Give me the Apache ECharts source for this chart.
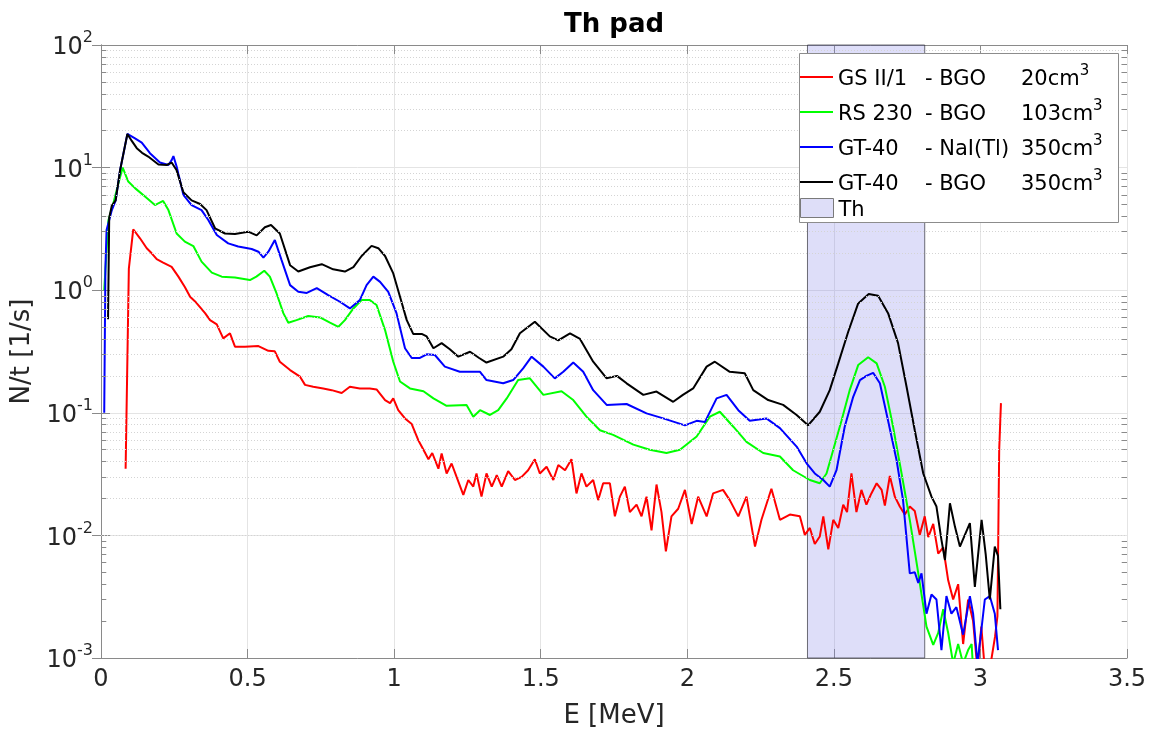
<!DOCTYPE html>
<html>
<head>
<meta charset="utf-8">
<script src="https://cdn.jsdelivr.net/npm/echarts@6/dist/echarts.min.js"></script>
<style>
  html, body { margin: 0; padding: 0; background: #fff; }
  #chart { width: 1154px; height: 729px; }
</style>
</head>
<body>
<div id="chart"></div>
<script>
// Detector descriptions (legend text)
const DETECTORS = ['GS II/1', 'RS 230', 'GT-40', 'GT-40'];
const CRYSTALS  = ['BGO', 'BGO', 'NaI(Tl)', 'BGO'];
const VOLUMES   = [20, 103, 350, 350];
const COLORS    = ['#ff0000', '#00ff00', '#0000ff', '#000000'];

// Energy window of the Th line
const TH_BAND = [2.41, 2.81];

// Axis ticks
const X_TICKS = [0, 0.5, 1, 1.5, 2, 2.5, 3, 3.5];
const Y_DECADES = [-3, -2, -1, 0, 1, 2];

// GS II/1 - BGO 20 cm3
const E_GS = [0.084,0.095,0.11,0.133,0.156,0.173,0.19,0.212,0.241,0.264,0.286,0.304,0.321,0.355,0.372,0.395,0.417,0.44,0.457,0.491,0.537,0.571,0.593,0.61,0.645,0.679,0.696,0.724,0.758,0.787,0.821,0.849,0.883,0.917,0.94,0.969,0.986,0.997,1.014,1.037,1.06,1.082,1.1,1.117,1.13,1.151,1.162,1.179,1.196,1.213,1.236,1.253,1.27,1.281,1.298,1.315,1.333,1.35,1.367,1.389,1.412,1.435,1.457,1.48,1.497,1.52,1.543,1.56,1.583,1.605,1.622,1.639,1.656,1.679,1.696,1.713,1.736,1.753,1.77,1.787,1.804,1.827,1.844,1.861,1.878,1.895,1.912,1.927,1.946,1.969,1.992,2.015,2.037,2.066,2.088,2.122,2.145,2.174,2.202,2.231,2.253,2.287,2.316,2.35,2.384,2.401,2.418,2.435,2.452,2.464,2.481,2.498,2.515,2.532,2.545,2.56,2.577,2.594,2.611,2.628,2.646,2.663,2.674,2.691,2.708,2.725,2.742,2.759,2.776,2.793,2.81,2.822,2.839,2.856,2.873,2.89,2.907,2.924,2.941,2.958,2.975,2.99,3.003,3.015,3.035,3.05,3.058,3.064,3.07];
const N_GS = [0.035,1.5,3.14,2.65,2.2,2.0,1.79,1.68,1.55,1.29,1.06,0.885,0.81,0.65,0.57,0.526,0.405,0.445,0.346,0.346,0.35,0.32,0.317,0.261,0.223,0.197,0.169,0.163,0.158,0.153,0.145,0.163,0.158,0.158,0.155,0.127,0.12,0.131,0.105,0.09,0.081,0.06,0.05,0.0418,0.047,0.035,0.0465,0.032,0.0386,0.03,0.0214,0.0283,0.025,0.032,0.0207,0.032,0.025,0.031,0.025,0.0335,0.0283,0.03,0.034,0.0418,0.032,0.0363,0.0283,0.0375,0.034,0.0418,0.022,0.032,0.025,0.0283,0.0194,0.0266,0.0266,0.0143,0.0207,0.025,0.0155,0.0178,0.0143,0.0207,0.011,0.026,0.0155,0.0074,0.0143,0.0165,0.0235,0.0124,0.0207,0.0143,0.022,0.0235,0.0194,0.0143,0.0207,0.0081,0.0134,0.024,0.0134,0.0148,0.0143,0.0101,0.0115,0.0085,0.0098,0.0143,0.0077,0.0134,0.0115,0.0178,0.0155,0.032,0.0155,0.0235,0.0178,0.022,0.0266,0.0235,0.0175,0.0305,0.0207,0.0172,0.0148,0.0172,0.0158,0.0101,0.0143,0.0097,0.0124,0.0071,0.008,0.0043,0.003,0.004,0.0013,0.003,0.002,0.0008,0.0018,0.0008,0.0009,0.0015,0.0022,0.05,0.12];

// RS 230 - BGO 103 cm3
const E_RS = [0.011,0.025,0.042,0.059,0.074,0.093,0.116,0.15,0.184,0.212,0.23,0.258,0.286,0.315,0.343,0.378,0.412,0.457,0.508,0.53,0.557,0.576,0.599,0.622,0.639,0.667,0.707,0.747,0.781,0.81,0.832,0.861,0.889,0.917,0.94,0.969,0.997,1.02,1.054,1.1,1.134,1.179,1.247,1.27,1.293,1.327,1.355,1.384,1.423,1.463,1.509,1.571,1.611,1.656,1.702,1.747,1.816,1.872,1.929,1.975,2.032,2.077,2.111,2.157,2.202,2.259,2.316,2.361,2.418,2.452,2.475,2.498,2.526,2.554,2.583,2.617,2.646,2.674,2.702,2.731,2.759,2.788,2.816,2.839,2.856,2.873,2.89,2.907,2.924,2.941,2.958,2.97,2.975];
const N_RS = [1.0,3.7,5.1,7.4,10,7.7,6.8,5.8,4.95,5.35,4.5,2.9,2.49,2.29,1.71,1.39,1.29,1.27,1.21,1.29,1.44,1.29,0.94,0.65,0.543,0.57,0.616,0.6,0.543,0.503,0.57,0.71,0.83,0.83,0.757,0.473,0.261,0.18,0.158,0.15,0.131,0.114,0.116,0.093,0.105,0.096,0.105,0.131,0.185,0.191,0.14,0.15,0.127,0.093,0.072,0.066,0.055,0.05,0.047,0.05,0.064,0.093,0.102,0.077,0.058,0.047,0.044,0.034,0.0283,0.0266,0.032,0.05,0.086,0.153,0.245,0.284,0.253,0.163,0.077,0.032,0.0134,0.0049,0.0018,0.00128,0.0016,0.0025,0.0016,0.0009,0.0013,0.0009,0.00116,0.0013,0.0008];

// GT-40 - NaI(Tl) 350 cm3
const E_NAI = [0.011,0.015,0.019,0.037,0.05,0.065,0.09,0.116,0.139,0.167,0.201,0.23,0.241,0.247,0.258,0.281,0.309,0.343,0.366,0.395,0.434,0.468,0.514,0.537,0.554,0.571,0.593,0.616,0.645,0.673,0.702,0.736,0.775,0.815,0.849,0.883,0.906,0.929,0.952,0.98,1.008,1.037,1.06,1.088,1.111,1.139,1.173,1.224,1.293,1.315,1.372,1.406,1.44,1.469,1.509,1.548,1.577,1.611,1.645,1.679,1.725,1.793,1.861,1.918,1.992,2.032,2.06,2.1,2.134,2.174,2.213,2.27,2.316,2.373,2.407,2.435,2.464,2.486,2.509,2.537,2.566,2.589,2.611,2.634,2.657,2.685,2.714,2.736,2.759,2.776,2.788,2.799,2.816,2.833,2.85,2.867,2.884,2.901,2.918,2.941,2.964,2.975,2.99,3.015,3.032,3.049,3.06];
const N_NAI = [0.1,1.5,3.1,4.5,5.4,9.5,18.8,17.3,16,13.1,11,10.5,11.5,12.4,10.2,6.0,4.95,4.5,3.74,2.82,2.41,2.27,2.17,2.06,1.84,2.06,2.57,1.76,1.1,0.97,0.95,1.04,0.91,0.805,0.71,0.83,1.1,1.29,1.17,0.97,0.65,0.336,0.28,0.28,0.30,0.296,0.238,0.216,0.216,0.185,0.174,0.185,0.23,0.287,0.238,0.191,0.216,0.257,0.216,0.153,0.116,0.118,0.099,0.09,0.079,0.086,0.084,0.131,0.14,0.105,0.086,0.09,0.075,0.053,0.0387,0.032,0.0283,0.025,0.034,0.077,0.135,0.185,0.2,0.212,0.174,0.086,0.041,0.0194,0.0049,0.005,0.0041,0.0049,0.0023,0.0033,0.003,0.00116,0.0032,0.0023,0.0026,0.00155,0.0032,0.0023,0.0009,0.003,0.0032,0.0023,0.00116];

// GT-40 - BGO 350 cm3
const E_BGO = [0.024,0.028,0.037,0.05,0.065,0.09,0.105,0.122,0.14,0.161,0.196,0.224,0.241,0.258,0.281,0.309,0.338,0.36,0.389,0.423,0.457,0.502,0.531,0.559,0.58,0.61,0.645,0.673,0.713,0.753,0.792,0.832,0.861,0.889,0.923,0.946,0.969,0.997,1.02,1.043,1.065,1.094,1.111,1.134,1.162,1.19,1.219,1.259,1.29,1.315,1.372,1.4,1.429,1.48,1.531,1.56,1.6,1.634,1.679,1.725,1.76,1.793,1.85,1.895,1.952,1.985,2.02,2.066,2.094,2.145,2.196,2.225,2.276,2.327,2.373,2.412,2.452,2.486,2.515,2.549,2.583,2.619,2.651,2.685,2.719,2.748,2.776,2.805,2.833,2.85,2.867,2.879,2.896,2.913,2.93,2.947,2.964,2.981,3.004,3.018,3.032,3.049,3.06,3.068];
const N_BGO = [0.58,3.9,4.9,5.4,9.5,18.8,16.5,14.4,13.2,12.3,10.6,10.5,11,9.5,6.3,5.4,5.05,4.5,3.2,2.9,2.87,3.0,2.8,3.26,3.4,2.9,1.6,1.42,1.54,1.63,1.48,1.42,1.54,1.9,2.3,2.2,1.9,1.37,0.885,0.57,0.44,0.44,0.42,0.336,0.37,0.33,0.287,0.315,0.28,0.257,0.287,0.33,0.445,0.553,0.42,0.39,0.445,0.40,0.261,0.191,0.2,0.174,0.14,0.149,0.123,0.14,0.158,0.238,0.261,0.216,0.21,0.153,0.127,0.116,0.096,0.079,0.102,0.153,0.253,0.458,0.78,0.93,0.9,0.65,0.37,0.163,0.072,0.032,0.0207,0.0172,0.0092,0.0063,0.0183,0.0118,0.0081,0.0101,0.0126,0.0038,0.0134,0.007,0.003,0.0081,0.0068,0.0025];

const SPECTRA = [[E_GS, N_GS], [E_RS, N_RS], [E_NAI, N_NAI], [E_BGO, N_BGO]];

const seriesNames = DETECTORS.map((d, i) => d + ' - ' + CRYSTALS[i] + ' ' + VOLUMES[i] + 'cm3');
const legendNames = [...seriesNames, 'Th'];
const TEXT = '#262626';
const FONT = 'DejaVu Sans';

// Minor grid / tick positions: 2..9 within each decade
const minorValues = [];
for (let k = -3; k < 2; k++) {
  for (let m = 2; m <= 9; m++) minorValues.push(m * Math.pow(10, k));
}

const lineSeries = SPECTRA.map(([xs, ys], i) => ({
  name: seriesNames[i],
  type: 'line',
  data: xs.map((x, j) => [x, ys[j]]),
  color: COLORS[i],
  showSymbol: false,
  symbol: 'none',
  lineStyle: { width: 2, color: COLORS[i] },
  z: 3,
  animation: false
}));

const helperSeries = {
  name: 'minor',
  type: 'line',
  data: [],
  z: 1,
  silent: true,
  markLine: {
    silent: true,
    symbol: 'none',
    label: { show: false },
    animation: false,
    data: [
      ...minorValues.map(v => ({ yAxis: v, lineStyle: { color: '#d4d4d4', type: [1, 2], width: 1 } })),
      ...minorValues.map(v => [{ coord: [0, v] }, { coord: [0.018, v], lineStyle: { color: '#8a8a8a', type: 'solid', width: 1 } }]),
      ...minorValues.map(v => [{ coord: [3.482, v] }, { coord: [3.5, v], lineStyle: { color: '#8a8a8a', type: 'solid', width: 1 } }])
    ]
  }
};

const thSeries = {
  name: 'Th',
  type: 'line',
  data: [],
  z: 5,
  color: 'rgba(128,128,230,0.26)',
  markArea: {
    silent: true,
    animation: false,
    itemStyle: { color: 'rgba(128,128,230,0.26)', borderColor: 'rgba(50,50,60,0.7)', borderWidth: 1 },
    data: [[{ xAxis: TH_BAND[0] }, { xAxis: TH_BAND[1] }]]
  }
};

const legendRich = {
  a: { fontFamily: FONT, fontSize: 21, color: '#000', width: 87, lineHeight: 26, verticalAlign: 'bottom' },
  b: { fontFamily: FONT, fontSize: 21, color: '#000', width: 96, lineHeight: 26, verticalAlign: 'bottom' },
  c: { fontFamily: FONT, fontSize: 21, color: '#000', lineHeight: 26, verticalAlign: 'bottom' },
  s: { fontFamily: FONT, fontSize: 15, color: '#000', lineHeight: 26, verticalAlign: 'top' },
  t: { fontFamily: FONT, fontSize: 21, color: '#000', lineHeight: 26, verticalAlign: 'bottom' }
};

// One legend entry per row so the rows sit at even spacing
const ROW_TOPS = [64, 99, 134, 169, 198];
const legends = legendNames.map((name, i) => ({
  orient: 'vertical',
  left: 800,
  top: ROW_TOPS[i],
  padding: 0,
  itemWidth: 33,
  itemHeight: i < 4 ? 20 : 19,
  selectedMode: false,
  z: 60,
  data: [i < 4
    ? { name, icon: 'path://M0,0H33V2H0Z' }
    : { name, icon: 'rect', itemStyle: { color: '#dedef8', borderColor: '#7a7a7a', borderWidth: 1 } }],
  formatter: n => {
    const k = seriesNames.indexOf(n);
    if (k < 0) return '{t|' + n + '}';
    return '{a|' + DETECTORS[k] + '}{b|- ' + CRYSTALS[k] + '}{c|' + VOLUMES[k] + 'cm}{s|3}';
  },
  textStyle: { rich: legendRich }
}));

const chart = echarts.init(document.getElementById('chart'), null, { renderer: 'canvas' });

chart.setOption({
  animation: false,
  backgroundColor: '#ffffff',
  title: {
    text: 'Th pad',
    left: 614,
    top: 12,
    padding: 0,
    textAlign: 'center',
    textStyle: { fontFamily: FONT, fontSize: 26, fontWeight: 'bold', color: '#000' }
  },
  grid: { left: 101, right: 27, top: 45, bottom: 71, containLabel: false, outerBoundsMode: 'none' },
  graphic: [{
    type: 'rect',
    left: 799,
    top: 53,
    z: 50,
    silent: true,
    shape: { x: 0, y: 0, width: 319, height: 169 },
    style: { fill: '#ffffff', stroke: '#8c8c8c', lineWidth: 1 }
  }],
  legend: legends,
  xAxis: [
    {
      type: 'value',
      min: 0, max: 3.5, interval: 0.5,
      name: 'E [MeV]',
      nameLocation: 'middle',
      nameGap: 45,
      nameTextStyle: { fontFamily: FONT, fontSize: 26, color: TEXT },
      axisLine: { show: true, lineStyle: { color: '#8a8a8a', width: 1 } },
      axisTick: { show: true, inside: true, length: 9, lineStyle: { color: '#8a8a8a' } },
      axisLabel: {
        fontFamily: FONT, fontSize: 24, color: TEXT, margin: 10,
        formatter: v => { const t = X_TICKS.find(x => Math.abs(x - v) < 1e-9); return t === undefined ? '' : String(t); }
      },
      splitLine: { show: true, lineStyle: { color: '#e4e4e4', width: 1 } }
    },
    {
      type: 'value',
      position: 'top',
      min: 0, max: 3.5, interval: 0.5,
      axisLine: { show: true, lineStyle: { color: '#8a8a8a', width: 1 } },
      axisTick: { show: true, inside: true, length: 9, lineStyle: { color: '#8a8a8a' } },
      axisLabel: { show: false },
      splitLine: { show: false }
    }
  ],
  yAxis: [
    {
      type: 'log',
      logBase: 10,
      min: 1e-3, max: 1e2,
      splitNumber: 5,
      name: 'N/t [1/s]',
      nameLocation: 'middle',
      nameGap: 62,
      nameTextStyle: { fontFamily: FONT, fontSize: 26, color: TEXT },
      axisLine: { show: true, lineStyle: { color: '#8a8a8a', width: 1 } },
      axisTick: { show: true, inside: true, length: 9, lineStyle: { color: '#8a8a8a' } },
      minorTick: { show: false },
      axisLabel: {
        margin: 8,
        formatter: v => {
          const e = Math.round(Math.log10(v));
          return Y_DECADES.includes(e) ? '{b|10}{s|' + e + '}' : '';
        },
        rich: {
          b: { fontFamily: FONT, fontSize: 24, color: TEXT, lineHeight: 30, verticalAlign: 'bottom' },
          s: { fontFamily: FONT, fontSize: 16, color: TEXT, lineHeight: 30, verticalAlign: 'top' }
        }
      },
      splitLine: { show: true, lineStyle: { color: '#e4e4e4', width: 1 } }
    },
    {
      type: 'log',
      logBase: 10,
      min: 1e-3, max: 1e2,
      splitNumber: 5,
      position: 'right',
      axisLine: { show: true, lineStyle: { color: '#8a8a8a', width: 1 } },
      axisTick: { show: true, inside: true, length: 9, lineStyle: { color: '#8a8a8a' } },
      axisLabel: { show: false },
      splitLine: { show: false }
    }
  ],
  series: [helperSeries, ...lineSeries, thSeries]
});
</script>
</body>
</html>
